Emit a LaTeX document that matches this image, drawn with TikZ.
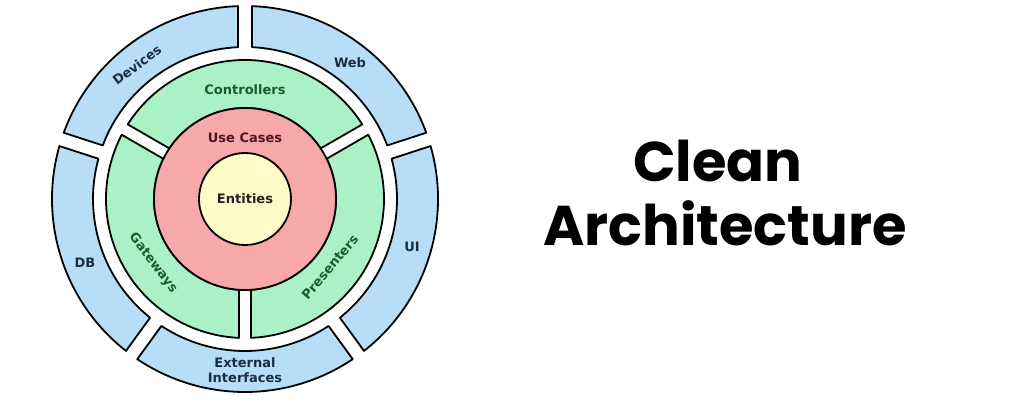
\documentclass[tikz,border=0pt]{standalone}
\usepackage{fontspec}
\setmainfont{DejaVu Sans}
\newfontfamily\titlefont{Poppins}
\definecolor{ringblue}{HTML}{B7DEF6}
\definecolor{ringgreen}{HTML}{AAF2C6}
\definecolor{ringred}{HTML}{F7A8A8}
\definecolor{coreyellow}{HTML}{FEFBC8}
\definecolor{txtblue}{HTML}{1B2E3F}
\definecolor{txtgreen}{HTML}{1D5A2E}
\definecolor{txtred}{HTML}{4E1622}
\definecolor{txtcore}{HTML}{222222}
\newcommand\ringseg[6]{%
  \pgfmathsetmacro\segAo{#1+asin(#5/#4)}%
  \pgfmathsetmacro\segBo{#2-asin(#5/#4)}%
  \pgfmathsetmacro\segAi{#1+asin(#5/#3)}%
  \pgfmathsetmacro\segBi{#2-asin(#5/#3)}%
  \draw[#6] (\segAo:#4) arc[start angle=\segAo, end angle=\segBo, radius=#4]
    -- (\segBi:#3) arc[start angle=\segBi, end angle=\segAi, radius=#3] -- cycle;
}
\tikzset{
  outline/.style={draw=black, line width=1.8pt, line join=round},
  bluebox/.style={outline, fill=ringblue},
  greenbox/.style={outline, fill=ringgreen},
  lbl/.style={font=\bfseries\fontsize{13}{14.5}\selectfont, inner sep=0pt, align=center},
  bluelbl/.style={lbl, text=txtblue},
  greenlbl/.style={lbl, text=txtgreen},
  title/.style={font=\titlefont\bfseries\fontsize{56}{60}\selectfont, anchor=base, inner sep=0pt, text=black}
}
\begin{document}
\begin{tikzpicture}[x=1pt,y=1pt]
\useasboundingbox (0,0) rectangle (1010,405);
\fill[white] (0,0) rectangle (1010,405);
\begin{scope}[shift={(245,206)}]
  % outer blue ring
  \ringseg{18}{90}{152}{193}{7}{bluebox}
  \ringseg{90}{162}{152}{193}{7}{bluebox}
  \ringseg{162}{234}{152}{193}{7}{bluebox}
  \ringseg{234}{306}{152}{193}{7}{bluebox}
  \ringseg{306}{378}{152}{193}{7}{bluebox}
  % green ring
  \ringseg{30}{150}{91}{139}{6}{greenbox}
  \ringseg{150}{270}{91}{139}{6}{greenbox}
  \ringseg{270}{390}{91}{139}{6}{greenbox}
  % red and yellow circles
  \node[outline, fill=ringred, circle, minimum size=182pt, inner sep=0pt] (usecases) at (0,0) {};
  \node[outline, fill=coreyellow, circle, minimum size=92pt, inner sep=0pt] (entities) at (0,0) {};
  % labels
  \node[bluelbl] (web) at (105,136) {Web};
  \node[bluelbl, rotate=37] (devices) at (-108,134) {Devices};
  \node[bluelbl] (db) at (-160,-64) {DB};
  \node[bluelbl] (ui) at (167,-48) {UI};
  \node[bluelbl] (ext) at (0,-171) {External\\Interfaces};
  \node[greenlbl] (controllers) at (0,109) {Controllers};
  \node[greenlbl, rotate=-53] (gateways) at (-92,-64) {Gateways};
  \node[greenlbl, rotate=50] (presenters) at (85,-68) {Presenters};
  \node[lbl, text=txtred] (uclbl) at (0,61) {Use Cases};
  \node[lbl, text=txtcore] (entlbl) at (0,0) {Entities};
\end{scope}
\node[title] (clean) at (718,223) {Clean};
\node[title] (arch) at (725,160) {Architecture};
\end{tikzpicture}
\end{document}
